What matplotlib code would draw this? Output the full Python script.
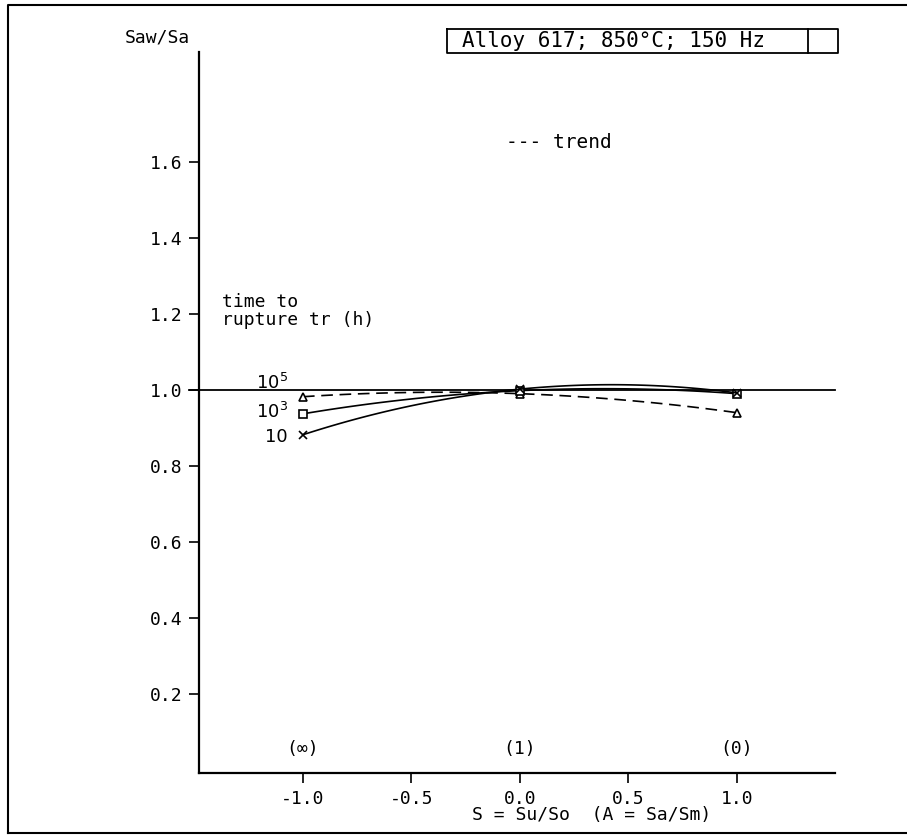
import numpy as np
import matplotlib
matplotlib.use("Agg")
import matplotlib.pyplot as plt
from matplotlib.lines import Line2D

plt.rcParams['font.family'] = ['DejaVu Sans Mono']
plt.rcParams['mathtext.default'] = 'regular'

# data: Saw/Sa against S at three stress ratios
s_values = [-1.0, 0.0, 1.0]
ratio_labels = ['(\u221e)', '(1)', '(0)']
tr_labels = ['10$^5$', '10$^3$', '10']
saw_tr1e5 = [0.982, 0.990, 0.940]
saw_tr1e3 = [0.937, 0.998, 0.990]
saw_tr10 = [0.882, 1.002, 0.992]
x_ticks = [-1.0, -0.5, 0.0, 0.5, 1.0]
y_ticks = [0.2, 0.4, 0.6, 0.8, 1.0, 1.2, 1.4, 1.6]

fig = plt.figure(figsize=(9.07, 8.36), dpi=100)
ax = fig.add_axes([199 / 907, 1 - 773 / 836, (835 - 199) / 907, (773 - 52) / 836])
ax.set_xlim(-1.479, 1.452)
ax.set_ylim(-0.008, 1.889)

for side in ['top', 'right']:
    ax.spines[side].set_visible(False)
for side in ['left', 'bottom']:
    ax.spines[side].set_linewidth(1.6)

ax.set_xticks(x_ticks)
ax.set_xticklabels([f"{v:.1f}" for v in x_ticks])
ax.set_yticks(y_ticks)
ax.set_yticklabels([f"{v:.1f}" for v in y_ticks])
ax.tick_params(direction='out', length=7, width=1.2, labelsize=13, pad=5)

# reference line at 1.0
ax.axhline(1.0, color='black', lw=1.3, xmin=-0.015, clip_on=False)

# smooth trend curves through the three points of each series
xs = np.linspace(-1.0, 1.0, 100)
series = [(saw_tr1e5, '^', (0, (7, 4))), (saw_tr1e3, 's', '-'), (saw_tr10, 'x', '-')]
for vals, mk, ls in series:
    coef = np.polyfit(s_values, vals, 2)
    ax.plot(xs, np.polyval(coef, xs), color='black', lw=1.2, linestyle=ls)
    ax.plot(s_values, vals, linestyle='none', marker=mk, mfc='white' if mk != 'x' else 'black',
            mec='black', ms=6, mew=1.2)

# series labels left of the first points
label_y = [1.018, 0.942, 0.876]
for lab, yv in zip(tr_labels, label_y):
    ax.text(-1.07, yv, lab, ha='right', va='center', fontsize=13, family='DejaVu Sans')

ax.text(-1.373, 1.208, 'time to\nrupture tr (h)', fontsize=13, va='center', linespacing=1.0)
ax.text(-0.065, 1.65, '--- trend', fontsize=14, va='center')

# A-ratio labels above the axis
for s, lab in zip(s_values, ratio_labels):
    ax.text(s, 0.055, lab, ha='center', va='center', fontsize=13)

fig.text(125 / 907, 1 - 38 / 836, 'Saw/Sa', fontsize=13, va='center')
fig.text(592 / 907, 1 - 815 / 836, 'S = Su/So  (A = Sa/Sm)', fontsize=13, ha='center', va='center')

# title box with small empty box next to it
fig.text(462 / 907, 1 - 41 / 836, 'Alloy 617; 850\u00b0C; 150 Hz', fontsize=15, va='center')
box = [(447, 29), (838, 29), (838, 53), (447, 53), (447, 29)]
fig.add_artist(Line2D([p[0] / 907 for p in box], [1 - p[1] / 836 for p in box], color='black', lw=1.3))
fig.add_artist(Line2D([808 / 907, 808 / 907], [1 - 29 / 836, 1 - 53 / 836], color='black', lw=1.3))

# outer frame of the scanned page
fig.add_artist(Line2D([8 / 907, 8 / 907, 907 / 907], [1 - 833 / 836, 1 - 5 / 836, 1 - 5 / 836], color='black', lw=1.5))
fig.add_artist(Line2D([8 / 907, 907 / 907], [1 - 833 / 836, 1 - 833 / 836], color='black', lw=1.5))

fig.savefig('out.png', dpi=100)
